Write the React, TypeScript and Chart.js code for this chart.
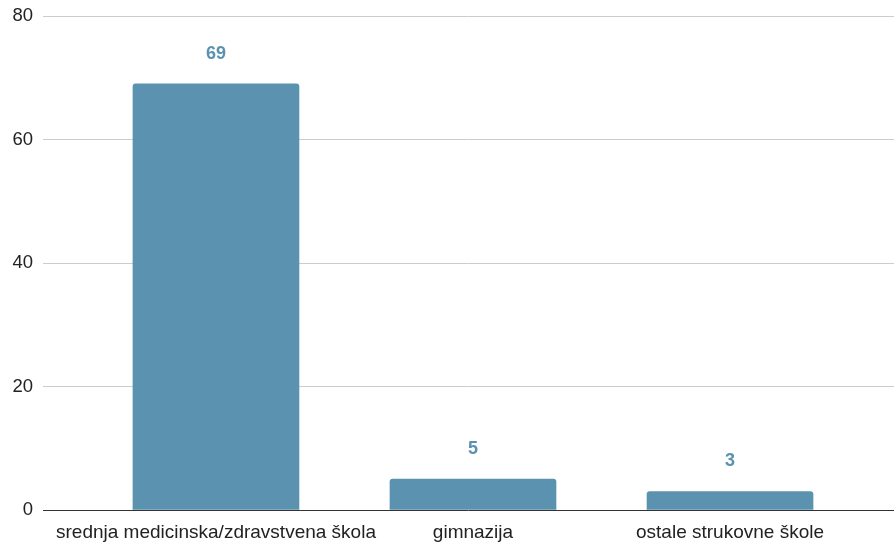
import React, { useEffect, useRef } from "react";
import { Chart, registerables } from "chart.js";

Chart.register(...registerables);

const categories = [
  "srednja medicinska/zdravstvena škola",
  "gimnazija",
  "ostale strukovne škole",
];
const values = [69, 5, 3];
const yTicks = [0, 20, 40, 60, 80];

const BAR_COLOR = "#5a92af";
const LABEL_COLOR = "#5a92af";
const FONT = "'Liberation Sans', Arial, sans-serif";

const valueLabels = {
  id: "valueLabels",
  afterDatasetsDraw(chart: any) {
    const ctx = chart.ctx;
    const meta = chart.getDatasetMeta(0);
    ctx.save();
    ctx.fillStyle = LABEL_COLOR;
    ctx.font = "bold 18px 'Liberation Sans', Arial, sans-serif";
    ctx.textAlign = "center";
    ctx.textBaseline = "middle";
    meta.data.forEach((el: any, i: number) => {
      ctx.fillText(String(values[i]), el.x, el.y - 30);
    });
    ctx.restore();
  },
};

export default function App() {
  const ref = useRef<HTMLCanvasElement | null>(null);
  useEffect(() => {
    document.body.style.margin = "0";
    if (!ref.current) return;
    const chart = new Chart(ref.current, {
      type: "bar",
      data: {
        datasets: [
          {
            data: values.map((v, i) => ({ x: i, y: v })),
            backgroundColor: BAR_COLOR,
            borderRadius: 3,
            borderSkipped: "bottom",
            barThickness: 166,
          },
        ],
      },
      options: {
        animation: false,
        responsive: true,
        maintainAspectRatio: false,
        layout: { padding: { top: 16, right: 0, left: 0, bottom: 0 } },
        plugins: { legend: { display: false }, tooltip: { enabled: false } },
        scales: {
          x: {
            type: "linear",
            min: -0.673,
            max: 2.638,
            offset: false,
            bounds: "data",
            grid: { display: false },
            border: { display: false },
            afterBuildTicks: (scale: any) => {
              scale.ticks = categories.map((_, i) => ({ value: i }));
            },
            afterFit: (scale: any) => {
              scale.height = 33;
              scale.paddingLeft = 0;
              scale.paddingRight = 0;
            },
            ticks: {
              padding: 3,
              color: "#222",
              font: { family: FONT, size: 19 },
              maxRotation: 0,
              autoSkip: false,
              callback: (v: any) => categories[v as number] ?? "",
            },
          },
          y: {
            min: 0,
            max: 80,
            afterBuildTicks: (scale: any) => {
              scale.ticks = yTicks.map((v) => ({ value: v }));
            },
            afterFit: (scale: any) => {
              scale.width = 43;
              scale.paddingTop = 0;
              scale.paddingBottom = 0;
            },
            border: { display: false },
            grid: {
              drawTicks: false,
              color: (c: any) => (c.tick && c.tick.value === 0 ? "#333" : "#cccccc"),
              lineWidth: 1,
            },
            ticks: {
              padding: 10,
              color: "#222",
              font: { family: FONT, size: 18.5 },
            },
          },
        },
      },
      plugins: [valueLabels],
    });
    return () => chart.destroy();
  }, []);
  return (
    <div style={{ width: 894, height: 543, position: "relative" }}>
      <canvas ref={ref} />
    </div>
  );
}
